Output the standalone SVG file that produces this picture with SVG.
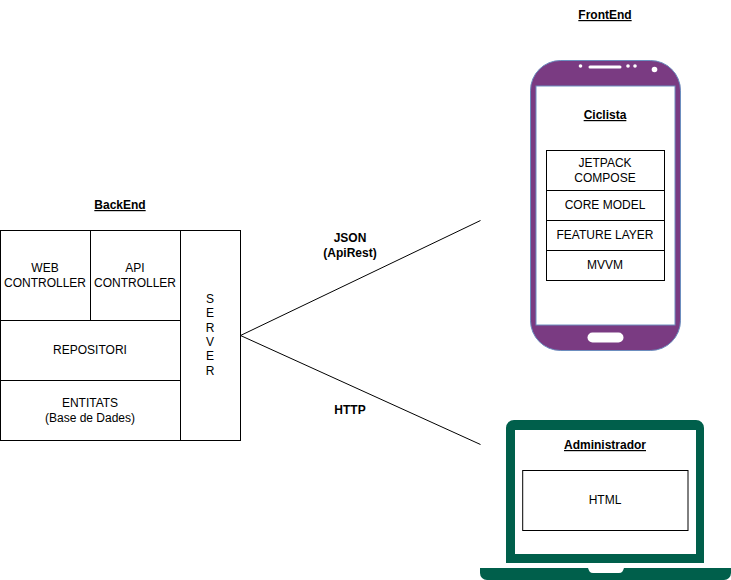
<svg xmlns="http://www.w3.org/2000/svg" width="731" height="580" viewBox="0 0 731 580">
<style>
text{font-family:"Liberation Sans",Arial,sans-serif;font-size:12px;fill:#000;text-anchor:middle}
.t{font-weight:bold;text-decoration:underline}
.b{font-weight:bold}
.box{fill:#fff;stroke:#000;stroke-width:1}
.c{fill:none;stroke:#000;stroke-width:1}
.g{fill:#005f4b}
</style>
<rect width="731" height="580" fill="#fff"/>
<g id="backend">
<text class="t" x="120" y="209">BackEnd</text>
<rect class="box" x="0.5" y="230.5" width="90" height="90"/>
<text x="45" y="272">WEB</text><text x="45" y="287">CONTROLLER</text>
<rect class="box" x="90.5" y="230.5" width="90" height="90"/>
<text x="135" y="272">API</text><text x="135" y="287">CONTROLLER</text>
<rect class="box" x="0.5" y="320.5" width="180" height="60"/>
<text x="90" y="354">REPOSITORI</text>
<rect class="box" x="0.5" y="380.5" width="180" height="60"/>
<text x="90" y="407">ENTITATS</text><text x="90" y="422">(Base de Dades)</text>
<rect class="box" x="180.5" y="230.5" width="60" height="210"/>
<text x="210" y="303">S</text><text x="210" y="317">E</text><text x="210" y="332">R</text><text x="210" y="346">V</text><text x="210" y="360">E</text><text x="210" y="375">R</text>
</g>
<g id="connectors">
<path class="c" d="M240.5 335.5L480.5 220.5"/>
<path class="c" d="M240.5 335.5L480.5 444.5"/>
</g>
<g id="labels">
<text class="b" x="350" y="242">JSON</text><text class="b" x="350" y="257">(ApiRest)</text>
<text class="b" x="350" y="414">HTTP</text>
</g>
<g id="phone">
<text class="t" x="605" y="19">FrontEnd</text>
<rect x="530.5" y="60.5" width="150" height="290" rx="30" fill="#7a3b82" stroke="#6c8ebf" stroke-width="1"/>
<rect x="536" y="86" width="139" height="239" fill="#fff" stroke="#6c8ebf" stroke-width="1"/>
<rect x="588.5" y="65.5" width="33" height="3" rx="1.5" fill="#fff"/>
<circle cx="580.5" cy="66" r="1.8" fill="#fff"/>
<circle cx="628" cy="66" r="1.8" fill="#fff"/>
<circle cx="635" cy="66" r="1.8" fill="#fff"/>
<circle cx="654.5" cy="69.5" r="2.8" fill="#fff"/>
<rect x="587.5" y="332.5" width="36" height="10" rx="5" fill="#fff"/>
<text class="t" x="605" y="119">Ciclista</text>
<rect class="box" x="546.5" y="150.5" width="118" height="40"/>
<text x="605" y="167">JETPACK</text><text x="605" y="182">COMPOSE</text>
<rect class="box" x="546.5" y="190.5" width="118" height="30"/>
<text x="605" y="209">CORE MODEL</text>
<rect class="box" x="546.5" y="220.5" width="118" height="30"/>
<text x="605" y="239">FEATURE LAYER</text>
<rect class="box" x="546.5" y="250.5" width="118" height="30"/>
<text x="605" y="269">MVVM</text>
</g>
<g id="laptop">
<path class="g" fill-rule="evenodd" d="M514 420H696a8 8 0 0 1 8 8V563H506V428a8 8 0 0 1 8-8ZM515 430V554H696V430Z"/>
<path class="g" d="M480 568H588c1 3 2 5 5 5H619c3 0 4-2 5-5H731V573a7 7 0 0 1-7 7H487a7 7 0 0 1-7-7Z"/>
<text class="t" x="605" y="449">Administrador</text>
<rect class="box" x="522.7" y="470.5" width="165.3" height="60"/>
<text x="605" y="504">HTML</text>
</g>
</svg>
